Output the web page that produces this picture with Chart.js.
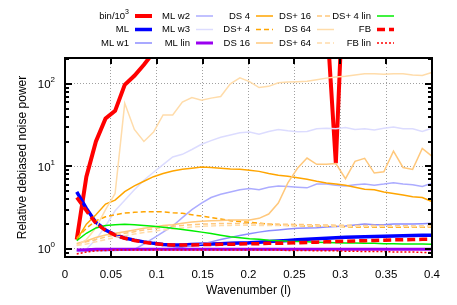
<!DOCTYPE html>
<html>
<head>
<meta charset="utf-8">
<script src="https://cdn.jsdelivr.net/npm/chart.js@4"></script>
<style>
  html, body { margin: 0; padding: 0; background: #fff; }
  #noise-chartID { display: block; }
</style>
</head>
<body>
<canvas id="noise-chartID" width="457" height="305"></canvas>
<script>
// wavenumber grid shared by every curve
let wavenumbers = [0.0128, 0.0233, 0.0337, 0.0442, 0.0546, 0.0651, 0.0756, 0.0860, 0.0965, 0.1069,
  0.1174, 0.1279, 0.1383, 0.1488, 0.1592, 0.1697, 0.1802, 0.1906, 0.2011, 0.2115,
  0.2220, 0.2325, 0.2429, 0.2534, 0.2638, 0.2743, 0.2848, 0.2952, 0.3057, 0.3161,
  0.3266, 0.3371, 0.3475, 0.3580, 0.3684, 0.3789, 0.3894, 0.3998];

// tick labels
let xTicks = [0, 0.05, 0.1, 0.15, 0.2, 0.25, 0.3, 0.35, 0.4];
let xTickLabels = ["0", "0.05", "0.1", "0.15", "0.2", "0.25", "0.3", "0.35", "0.4"];
let yTicks = [1, 10, 100];
let yTickExponents = ["0", "1", "2"];

// series values (relative debiased noise power)
let binOver1e3 = [1.3, 7.5, 20, 38, 47, 97, 125, 170, 240, 330, 420, 500, 560, 600, 640, 680, 700, 720, 740, 760,
  780, 800, 820, 830, 840, 850, 760, 10.9, 6500, 6800, 7000, 7200, 7400, 7600, 7800, 8000, 8200, 8400];
let ml = [4.9, 3.1, 2.1, 1.7, 1.48, 1.36, 1.28, 1.22, 1.17, 1.13, 1.12, 1.12, 1.13, 1.14, 1.15, 1.16, 1.17, 1.18, 1.19, 1.21,
  1.23, 1.25, 1.27, 1.29, 1.31, 1.33, 1.35, 1.37, 1.39, 1.40, 1.41, 1.42, 1.43, 1.44, 1.45, 1.46, 1.47, 1.47];
let mlW1 = [0.95, 0.96, 0.97, 0.97, 0.98, 0.98, 0.99, 0.99, 1.0, 1.0, 1.02, 1.05, 1.1, 1.15, 1.22, 1.3, 1.38, 1.46, 1.53, 1.6,
  1.66, 1.7, 1.75, 1.78, 1.8, 1.81, 1.84, 1.87, 1.9, 1.95, 2.0, 1.97, 1.96, 2.0, 2.0, 2.0, 2.02, 2.05];
let mlW2 = [0.93, 0.94, 0.95, 0.95, 0.96, 0.97, 0.99, 1.15, 1.35, 1.6, 1.9, 2.4, 3.0, 3.6, 4.2, 4.6, 4.9, 5.2, 5.4, 5.2,
  5.6, 5.8, 5.7, 5.6, 5.5, 6.1, 6.1, 5.9, 5.8, 6.0, 6.1, 5.9, 6.1, 6.35, 6.1, 6.0, 5.7, 6.25];
let mlW3 = [0.95, 1.0, 1.3, 1.9, 2.9, 3.9, 5.2, 6.8, 8.5, 10.5, 13, 14, 16, 18.5, 20.5, 22.5, 24, 25.5, 26, 24.5,
  26.5, 28, 27, 26.3, 26.5, 28.5, 29, 28.5, 29.5, 28, 28.5, 27.6, 29, 30, 28.5, 28.5, 26.5, 29];
let mlLin = [0.97, 0.98, 0.99, 0.99, 0.99, 0.99, 0.99, 0.99, 0.99, 0.99, 0.99, 0.99, 0.99, 0.99, 0.99, 0.99, 0.99, 0.99, 0.99, 0.99,
  0.99, 0.99, 0.99, 0.99, 0.99, 0.99, 0.99, 0.99, 0.99, 0.99, 0.99, 0.99, 0.99, 0.99, 0.99, 0.99, 0.99, 0.99];
let ds4 = [1.29, 2.0, 2.6, 3.5, 3.9, 4.95, 5.8, 6.6, 7.5, 8.2, 8.8, 9.2, 9.5, 9.8, 9.7, 9.5, 9.3, 9.2, 9.0, 8.7,
  8.2, 7.8, 7.6, 7.3, 7.0, 6.6, 6.3, 6.1, 5.9, 5.6, 5.3, 5.2, 4.9, 4.7, 4.5, 4.3, 4.2, 3.75];
let dsPlus4 = [1.35, 1.78, 2.2, 2.45, 2.6, 2.72, 2.78, 2.82, 2.83, 2.82, 2.75, 2.7, 2.6, 2.5, 2.4, 2.3, 2.2, 2.15, 2.1, 2.05,
  2.0, 1.95, 1.93, 1.92, 1.9, 1.9, 1.89, 1.88, 1.86, 1.85, 1.85, 1.84, 1.83, 1.83, 1.83, 1.83, 1.83, 1.83];
let ds16 = [1.17, 1.25, 1.38, 1.48, 1.55, 1.62, 1.7, 1.78, 1.85, 1.92, 1.97, 2.05, 2.12, 2.16, 2.2, 2.22, 2.24, 2.25, 2.25, 2.35,
  2.65, 3.6, 6.3, 9.5, 12.6, 10.6, 10.6, 10.8, 7.1, 11.5, 12.5, 8.3, 8.6, 15.3, 9.7, 9.2, 16.5, 13.3];
let dsPlus16 = [1.15, 1.22, 1.3, 1.4, 1.48, 1.55, 1.62, 1.7, 1.76, 1.82, 1.88, 1.93, 1.97, 2.0, 2.02, 2.03, 2.04, 2.04, 2.03, 2.02,
  2.01, 2.0, 1.99, 1.98, 1.97, 1.96, 1.95, 1.94, 1.94, 1.93, 1.93, 1.92, 1.92, 1.91, 1.91, 1.9, 1.9, 1.9];
let ds64 = [1.1, 1.3, 1.8, 3.0, 4.7, 58, 28, 20, 26, 42, 42, 60, 68, 63, 67, 70, 100, 118, 106, 90,
  93, 103, 105, 106, 107, 112, 117, 121, 123, 128, 132, 132, 130, 132, 132, 128, 126, 137];
let dsPlus64 = [1.1, 1.15, 1.22, 1.3, 1.38, 1.45, 1.52, 1.58, 1.64, 1.7, 1.75, 1.8, 1.84, 1.88, 1.9, 1.92, 1.93, 1.94, 1.94, 1.93,
  1.93, 1.92, 1.92, 1.91, 1.91, 1.9, 1.9, 1.89, 1.89, 1.88, 1.88, 1.88, 1.87, 1.87, 1.87, 1.86, 1.86, 1.86];
let dsPlus4Lin = [1.26, 1.55, 1.8, 1.93, 1.97, 1.99, 1.97, 1.92, 1.88, 1.83, 1.78, 1.72, 1.66, 1.6, 1.54, 1.47, 1.41, 1.37, 1.33, 1.31,
  1.28, 1.26, 1.24, 1.23, 1.22, 1.21, 1.2, 1.19, 1.18, 1.18, 1.17, 1.17, 1.16, 1.16, 1.15, 1.15, 1.15, 1.14];
let fb = [4.2, 2.9, 2.05, 1.68, 1.47, 1.35, 1.27, 1.21, 1.16, 1.13, 1.12, 1.12, 1.12, 1.13, 1.13, 1.14, 1.14, 1.15, 1.16, 1.16,
  1.17, 1.17, 1.18, 1.19, 1.2, 1.21, 1.22, 1.23, 1.24, 1.25, 1.26, 1.27, 1.28, 1.29, 1.29, 1.3, 1.31, 1.31];
let fbLin = [0.87, 0.92, 0.95, 0.96, 0.97, 0.97, 0.97, 0.97, 0.97, 0.97, 0.97, 0.97, 0.97, 0.97, 0.97, 0.97, 0.97, 0.97, 0.97, 0.97,
  0.97, 0.97, 0.96, 0.96, 0.96, 0.95, 0.95, 0.95, 0.94, 0.94, 0.93, 0.93, 0.93, 0.92, 0.92, 0.92, 0.91, 0.91];

// legend names, in plotting order
let seriesNames = ["bin/10^3", "ML", "ML w1", "ML w2", "ML w3", "ML lin", "DS 4", "DS+ 4", "DS 16",
  "DS+ 16", "DS 64", "DS+ 64", "DS+ 4 lin", "FB", "FB lin"];
let seriesValues = [binOver1e3, ml, mlW1, mlW2, mlW3, mlLin, ds4, dsPlus4, ds16,
  dsPlus16, ds64, dsPlus64, dsPlus4Lin, fb, fbLin];

// line styles: color, width, dash
let lineStyles = [
  ["#ff0000", 4, []],
  ["#0000ff", 3.5, []],
  ["#8c8cff", 1.5, []],
  ["#acacff", 1.5, []],
  ["#dcdcff", 1.5, []],
  ["#9a00f0", 3, []],
  ["#ffa500", 1.5, []],
  ["#ffa500", 1.5, [5, 3]],
  ["#ffc87c", 1.5, []],
  ["#ffc87c", 1.5, [5, 3]],
  ["#ffdcaa", 1.5, []],
  ["#ffdcaa", 1.5, [5, 3]],
  ["#00ee00", 1.5, []],
  ["#ff0000", 3.5, [8, 4]],
  ["#ff0000", 1.5, [2, 2]],
];

let fontFamily = '"Liberation Sans", Arial, sans-serif';

let canvas = document.querySelector("#noise-chartID");
let context = canvas.getContext("2d");

let datasets = seriesValues.map(function (values, i) {
  return {
    label: seriesNames[i],
    data: wavenumbers.map(function (k, j) { return { x: k, y: values[j] }; }),
    borderColor: lineStyles[i][0],
    borderWidth: lineStyles[i][1],
    borderDash: lineStyles[i][2],
    pointRadius: 0,
    tension: 0,
    fill: false,
    clip: 0,
    order: seriesValues.length - i, // later series are drawn on top
  };
});

// text with a "^" exponent, right-aligned at x
function drawPowerText(ctx, text, x, y, size) {
  let parts = text.split("^");
  ctx.font = Math.round(size * 0.72) + "px " + fontFamily;
  let supWidth = parts[1] ? ctx.measureText(parts[1]).width : 0;
  ctx.font = size + "px " + fontFamily;
  ctx.textAlign = "right";
  ctx.textBaseline = "middle";
  ctx.fillText(parts[0], x - supWidth, y);
  if (parts[1]) {
    ctx.font = Math.round(size * 0.72) + "px " + fontFamily;
    ctx.textAlign = "left";
    ctx.fillText(parts[1], x - supWidth, y - size * 0.42);
  }
}

// frame, ticks, labels and key in gnuplot style
let gnuplotFrame = {
  id: "gnuplotFrame",
  afterDatasetsDraw: function (chart) {
    let ctx = chart.ctx;
    let area = chart.chartArea;
    let xs = chart.scales.x;
    let ys = chart.scales.y;
    ctx.save();
    ctx.strokeStyle = "#000";
    ctx.fillStyle = "#000";
    ctx.lineWidth = 2;
    ctx.setLineDash([]);

    // x ticks top and bottom
    xTicks.forEach(function (v) {
      let px = Math.round(xs.getPixelForValue(v));
      ctx.beginPath();
      ctx.moveTo(px, area.bottom); ctx.lineTo(px, area.bottom - 6);
      ctx.moveTo(px, area.top); ctx.lineTo(px, area.top + 6);
      ctx.stroke();
    });
    // y major and minor ticks, left and right
    for (let e = -1; e <= 2; e++) {
      for (let m = 1; m <= 9; m++) {
        let v = m * Math.pow(10, e);
        if (v < ys.min || v > ys.max) continue;
        let py = Math.round(ys.getPixelForValue(v));
        let len = m === 1 ? 7 : 4;
        ctx.beginPath();
        ctx.moveTo(area.left, py); ctx.lineTo(area.left + len, py);
        ctx.moveTo(area.right, py); ctx.lineTo(area.right - len, py);
        ctx.stroke();
      }
    }
    // border box
    ctx.strokeRect(area.left, area.top, area.right - area.left, area.bottom - area.top);

    // tick labels
    ctx.font = "11.5px " + fontFamily;
    ctx.textAlign = "center";
    ctx.textBaseline = "middle";
    xTicks.forEach(function (v, i) {
      ctx.fillText(xTickLabels[i], xs.getPixelForValue(v), area.bottom + 18);
    });
    yTicks.forEach(function (v, i) {
      drawPowerText(ctx, "10^" + yTickExponents[i], area.left - 10, ys.getPixelForValue(v) + 1, 11.5);
    });

    // axis titles
    ctx.font = "12px " + fontFamily;
    ctx.textAlign = "center";
    ctx.textBaseline = "middle";
    ctx.fillText("Wavenumber (l)", (area.left + area.right) / 2, 291);
    ctx.save();
    ctx.translate(23, (area.top + area.bottom) / 2);
    ctx.rotate(-Math.PI / 2);
    ctx.fillText("Relative debiased noise power", 0, 0);
    ctx.restore();

    // key: 5 columns of 3 entries
    let colX = [135, 196, 256, 317, 377];
    let rowY = [16, 29.5, 43];
    chart.data.datasets.forEach(function (ds, i) {
      let sx = colX[Math.floor(i / 3)];
      let sy = rowY[i % 3];
      ctx.fillStyle = "#000";
      drawPowerText(ctx, ds.label, sx - 6, sy, 9.5);
      ctx.strokeStyle = ds.borderColor;
      ctx.lineWidth = ds.borderWidth;
      ctx.setLineDash(ds.borderDash);
      ctx.beginPath();
      ctx.moveTo(sx, sy); ctx.lineTo(sx + 17, sy);
      ctx.stroke();
      ctx.setLineDash([]);
    });
    ctx.restore();
  },
};

let noiseChart = new Chart(context, {
  type: "line",
  data: { datasets: datasets },
  options: {
    responsive: false,
    animation: false,
    devicePixelRatio: 1,
    layout: { padding: { left: 65, right: 25, top: 58, bottom: 48 } },
    plugins: { legend: { display: false }, tooltip: { enabled: false } },
    scales: {
      x: {
        type: "linear",
        min: 0,
        max: 0.4,
        ticks: { display: false, stepSize: 0.05 },
        grid: { color: "#a0a0a0", lineWidth: 1, drawTicks: false },
        border: { display: false, dash: [1, 2] },
      },
      y: {
        type: "logarithmic",
        min: 0.8,
        max: 205,
        afterBuildTicks: function (axis) {
          axis.ticks = yTicks.map(function (v) { return { value: v }; });
        },
        ticks: { display: false },
        grid: { color: "#a0a0a0", lineWidth: 1, drawTicks: false },
        border: { display: false, dash: [1, 2] },
      },
    },
  },
  plugins: [gnuplotFrame],
});
</script>
</body>
</html>
